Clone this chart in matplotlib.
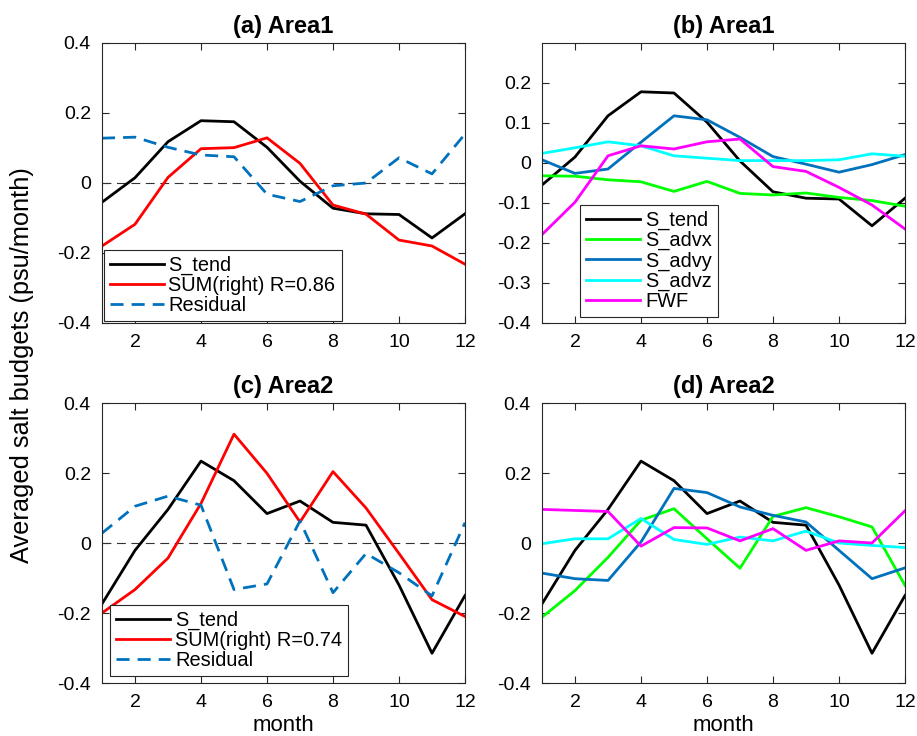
import numpy as np
import matplotlib
matplotlib.use("Agg")
import matplotlib.pyplot as plt
from matplotlib.ticker import FuncFormatter

plt.rcParams['font.family'] = ['Liberation Sans', 'DejaVu Sans']
plt.rcParams['axes.unicode_minus'] = False

months = np.arange(1, 13)

# Area1
a1_tend = [-0.055, 0.015, 0.118, 0.178, 0.175, 0.102, 0.005, -0.072, -0.088, -0.090, -0.157, -0.088]
a1_sum = [-0.180, -0.118, 0.016, 0.098, 0.101, 0.129, 0.056, -0.063, -0.089, -0.163, -0.180, -0.232]
a1_resid = [0.128, 0.131, 0.102, 0.080, 0.075, -0.032, -0.053, -0.008, 0.000, 0.072, 0.026, 0.140]
a1_advx = [-0.032, -0.033, -0.042, -0.047, -0.071, -0.046, -0.076, -0.080, -0.075, -0.086, -0.094, -0.108]
a1_advy = [0.008, -0.026, -0.015, 0.052, 0.118, 0.108, 0.064, 0.016, -0.003, -0.023, -0.004, 0.021]
a1_advz = [0.024, 0.038, 0.053, 0.043, 0.018, 0.012, 0.006, 0.006, 0.006, 0.008, 0.023, 0.017]
a1_fwf = [-0.179, -0.098, 0.018, 0.043, 0.035, 0.053, 0.060, -0.009, -0.021, -0.061, -0.105, -0.165]

# Area2
a2_tend = [-0.174, -0.021, 0.096, 0.234, 0.178, 0.084, 0.120, 0.059, 0.051, -0.120, -0.315, -0.150]
a2_sum = [-0.200, -0.133, -0.043, 0.113, 0.311, 0.199, 0.060, 0.204, 0.100, -0.030, -0.162, -0.210]
a2_resid = [0.028, 0.105, 0.134, 0.108, -0.133, -0.117, 0.063, -0.142, -0.030, -0.085, -0.151, 0.058]
a2_advx = [-0.212, -0.136, -0.041, 0.065, 0.098, 0.012, -0.072, 0.076, 0.101, 0.075, 0.046, -0.121]
a2_advy = [-0.086, -0.102, -0.107, 0.003, 0.156, 0.144, 0.103, 0.079, 0.060, -0.021, -0.102, -0.071]
a2_advz = [-0.002, 0.012, 0.012, 0.070, 0.010, -0.004, 0.017, 0.006, 0.034, 0.000, -0.007, -0.013]
a2_fwf = [0.096, 0.093, 0.090, -0.009, 0.044, 0.043, 0.006, 0.041, -0.021, 0.006, 0.000, 0.092]

c_blue = '#0072BD'
lw = 2.0
dash = (0, (4.7, 2.9))
W, H = 917, 736

fig = plt.figure(figsize=(W / 100, H / 100), dpi=100)

def px_axes(l, t, r, b):
    return fig.add_axes([l / W, 1 - b / H, (r - l) / W, (b - t) / H])

def style(ax, title, ylim, yticks):
    ax.set_xlim(1, 12)
    ax.set_ylim(*ylim)
    ax.set_xticks([2, 4, 6, 8, 10, 12])
    ax.set_yticks(yticks)
    ax.yaxis.set_major_formatter(FuncFormatter(lambda v, p: '%g' % round(v, 3)))
    ax.tick_params(direction='in', top=True, right=True, labelsize=14,
                   length=5, width=0.8, color='#262626', pad=8)
    for s in ax.spines.values():
        s.set_color('#262626')
        s.set_linewidth(0.8)
    ax.set_title(title, fontsize=17, fontweight='bold', pad=7)

def legend(ax, dx, dy):
    leg = ax.legend(loc='lower left', bbox_to_anchor=(dx / 363, dy / 280),
                    borderaxespad=0, fontsize=14.4, handlelength=2.7,
                    labelspacing=0.05, handletextpad=0.25, borderpad=0.3,
                    fancybox=False, framealpha=1, edgecolor='#262626')
    leg.get_frame().set_linewidth(0.8)

axa = px_axes(102, 43, 465, 323)
axa.axhline(0, color='#333333', lw=0.8, ls=(0, (8, 5)))
axa.plot(months, a1_tend, color='k', lw=lw, label='S_tend')
axa.plot(months, a1_sum, color='r', lw=lw, label='SUM(right) R=0.86')
axa.plot(months, a1_resid, color=c_blue, lw=lw, ls=dash, label='Residual')
style(axa, '(a) Area1', (-0.4, 0.4), [-0.4, -0.2, 0, 0.2, 0.4])
legend(axa, 1.5, 2)

axb = px_axes(542, 43, 905, 323)
axb.plot(months, a1_tend, color='k', lw=lw, label='S_tend')
axb.plot(months, a1_advx, color='#00FF00', lw=lw, label='S_advx')
axb.plot(months, a1_advy, color=c_blue, lw=lw, label='S_advy')
axb.plot(months, a1_advz, color='#00FFFF', lw=lw, label='S_advz')
axb.plot(months, a1_fwf, color='#FF00FF', lw=lw, label='FWF')
style(axb, '(b) Area1', (-0.4, 0.3), [-0.4, -0.3, -0.2, -0.1, 0, 0.1, 0.2])
legend(axb, 38, 6)

axc = px_axes(102, 403, 465, 683)
axc.axhline(0, color='#333333', lw=0.8, ls=(0, (8, 5)))
axc.plot(months, a2_tend, color='k', lw=lw, label='S_tend')
axc.plot(months, a2_sum, color='r', lw=lw, label='SUM(right) R=0.74')
axc.plot(months, a2_resid, color=c_blue, lw=lw, ls=dash, label='Residual')
style(axc, '(c) Area2', (-0.4, 0.4), [-0.4, -0.2, 0, 0.2, 0.4])
legend(axc, 8, 7)
axc.set_xlabel('month', fontsize=16, labelpad=3)

axd = px_axes(542, 403, 905, 683)
axd.plot(months, a2_tend, color='k', lw=lw)
axd.plot(months, a2_advx, color='#00FF00', lw=lw)
axd.plot(months, a2_advy, color=c_blue, lw=lw)
axd.plot(months, a2_advz, color='#00FFFF', lw=lw)
axd.plot(months, a2_fwf, color='#FF00FF', lw=lw)
style(axd, '(d) Area2', (-0.4, 0.4), [-0.4, -0.2, 0, 0.2, 0.4])
axd.set_xlabel('month', fontsize=16, labelpad=3)

fig.text(22 / W, 1 - 365 / H, 'Averaged salt budgets (psu/month)', rotation=90,
         ha='center', va='center', fontsize=18.3)

fig.savefig('out.png', dpi=100)
